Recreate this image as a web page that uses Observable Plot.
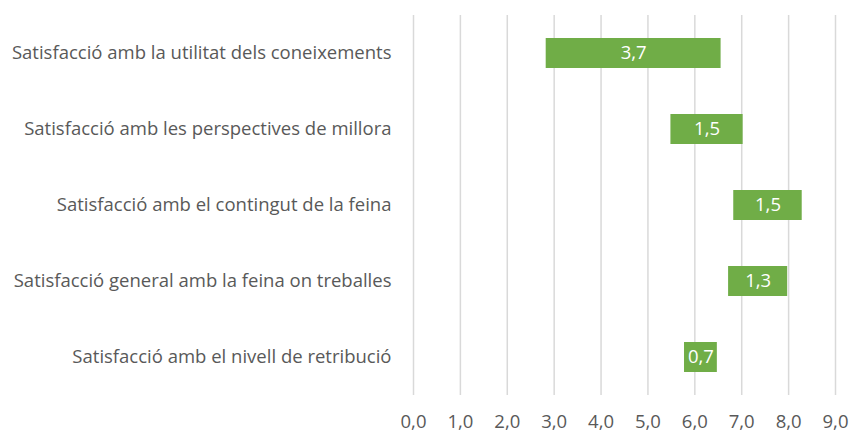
<!DOCTYPE html>
<html>
<head>
<meta charset="utf-8">
<script src="https://cdn.jsdelivr.net/npm/d3@7"></script>
<script src="https://cdn.jsdelivr.net/npm/@observablehq/plot@0.6"></script>
<style>
  html, body { margin: 0; padding: 0; background: #fff; }
  #chart svg { display: block; }
</style>
</head>
<body>
<div id="chart"></div>
<script>
const categories = [
  "Satisfacció amb la utilitat dels coneixements",
  "Satisfacció amb les perspectives de millora",
  "Satisfacció amb el contingut de la feina",
  "Satisfacció general amb la feina on treballes",
  "Satisfacció amb el nivell de retribució"
];
const startValues = [2.83, 5.49, 6.83, 6.72, 5.78];
const gapValues = [3.73, 1.54, 1.46, 1.26, 0.70];
const xTicks = [0, 1, 2, 3, 4, 5, 6, 7, 8, 9];

const data = categories.map((c, i) => ({
  cat: c,
  x1: startValues[i],
  x2: startValues[i] + gapValues[i],
  gap: gapValues[i]
}));

const fmt = v => d3.format(".1f")(v).replace(".", ",");

const chart = Plot.plot({
  width: 850,
  height: 432,
  marginLeft: 413,
  marginRight: 15,
  marginTop: 15,
  marginBottom: 37,
  style: { fontFamily: "'Open Sans', sans-serif", fontSize: "18.5px", color: "#595959", background: "#fff" },
  x: { domain: [0, 9], ticks: xTicks, tickFormat: fmt, label: null },
  y: { domain: categories, label: null, paddingInner: 0.6, paddingOuter: 0.3 },
  marks: [
    Plot.gridX(xTicks, { stroke: "#d9d9d9", strokeOpacity: 1, strokeWidth: 1.5 }),
    Plot.axisX({ ticks: xTicks, tickFormat: fmt, tickSize: 0, tickPadding: 19, fontSize: 18.5, fill: "#595959", label: null }),
    Plot.axisY({ tickSize: 0, tickPadding: 22, fontSize: 18.5, fill: "#595959", label: null }),
    Plot.barX(data, { y: "cat", x1: "x1", x2: "x2", fill: "#70ad47", insetTop: 0, insetBottom: 0 }),
    Plot.text(data, { y: "cat", x: d => (d.x1 + d.x2) / 2, text: d => fmt(d.gap), fill: "white", fontSize: 18.5 })
  ]
});
document.getElementById("chart").appendChild(chart);
</script>
</body>
</html>
